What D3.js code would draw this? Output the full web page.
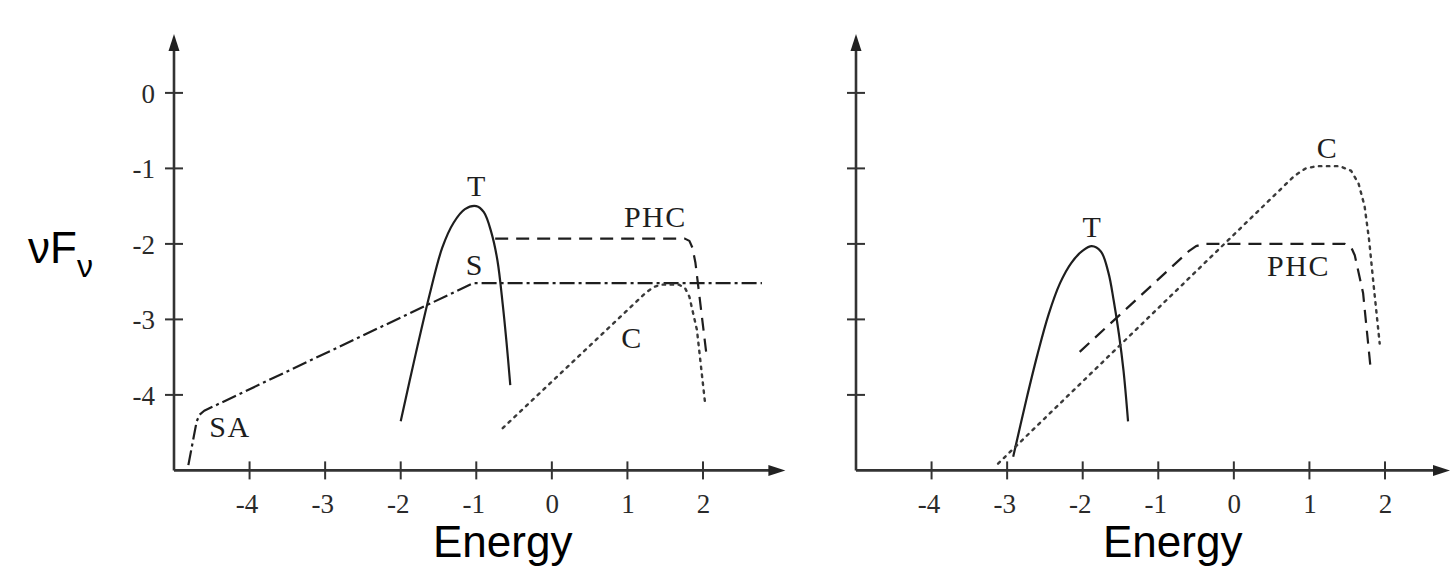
<!DOCTYPE html>
<html>
<head>
<meta charset="utf-8">
<script src="https://cdn.jsdelivr.net/npm/d3@7"></script>
<style>
  html, body { margin: 0; padding: 0; background: #fff; }
  svg { display: block; }
</style>
</head>
<body>
<svg id="chart" width="1451" height="576"></svg>
<script>
// Tick values shared by both panels (log energy, log νFν)
const xTicks = [-4, -3, -2, -1, 0, 1, 2];
const yTicks = [0, -1, -2, -3, -4];

// Left panel spectral components: [log E, log νFν]
const leftSA  = [[-4.81, -4.93], [-4.7, -4.35], [-4.66, -4.26], [-4.6, -4.21], [-1.04, -2.52], [2.78, -2.52]];
const leftT   = [[-2.0, -4.35], [-1.8, -3.45], [-1.6, -2.6], [-1.45, -2.05], [-1.3, -1.72],
                 [-1.15, -1.54], [-1.0, -1.5], [-0.9, -1.58], [-0.8, -1.85], [-0.72, -2.22],
                 [-0.65, -2.8], [-0.6, -3.3], [-0.55, -3.87]];
const leftPHC = [[-0.75, -1.93], [1.76, -1.93], [1.82, -1.96], [1.86, -2.05], [1.9, -2.25], [2.05, -3.5]];
const leftC   = [[-0.65, -4.44], [1.25, -2.64], [1.35, -2.57], [1.45, -2.54], [1.68, -2.54],
                 [1.76, -2.58], [1.82, -2.7], [1.92, -3.14], [2.03, -4.13]];

// Right panel spectral components
const rightT   = [[-2.92, -4.82], [-2.75, -4.08], [-2.6, -3.47], [-2.45, -2.93], [-2.3, -2.52],
                  [-2.15, -2.25], [-2.0, -2.09], [-1.88, -2.03], [-1.76, -2.1], [-1.66, -2.38],
                  [-1.59, -2.75], [-1.52, -3.2], [-1.46, -3.68], [-1.40, -4.35]];
const rightPHC = [[-2.04, -3.43], [-0.6, -2.1], [-0.5, -2.03], [-0.4, -2.0], [1.47, -2.0],
                  [1.55, -2.04], [1.6, -2.15], [1.71, -2.65], [1.81, -3.65]];
const rightC   = [[-3.12, -4.91], [0.8, -1.1], [0.95, -1.0], [1.1, -0.97], [1.4, -0.97],
                  [1.55, -1.03], [1.65, -1.2], [1.73, -1.5], [1.79, -1.95], [1.85, -2.55], [1.93, -3.32]];

// Component annotations: text and anchor in data units
const leftLabels  = [["T", -1.0, -1.365], ["S", -1.03, -2.41], ["PHC", 1.37, -1.78],
                     ["C", 1.05, -3.38], ["SA", -4.26, -4.56]];
const rightLabels = [["T", -1.88, -1.91], ["C", 1.23, -0.86], ["PHC", 0.855, -2.425]];

const xLabel = "Energy";

const svg = d3.select("#chart");
const unit = 75.57;          // pixels per decade on the energy axis
const yUnit = 75.5;          // pixels per decade on the flux axis
const baseY = 470.4;         // pixel row of the x axis (log νFν = -5)

const styles = {
  solid:   { dash: null,        width: 2.2, color: "#1e1e1e" },
  dashed:  { dash: "13,8",      width: 2.2, color: "#1e1e1e" },
  dotted:  { dash: "2.5,5.5",   width: 2.4, color: "#3a3a3a" },
  dashdot: { dash: "15,4,3,4",  width: 2.2, color: "#1e1e1e" }
};

function panel(axisX, xEnd, yEnd, series, labels, showYLabels) {
  const x = d3.scaleLinear().domain([-5, 3]).range([axisX, axisX + 8 * unit]);
  const y = d3.scaleLinear().domain([-5, 1]).range([baseY, baseY - 6 * yUnit]);
  const g = svg.append("g");

  // x axis
  const xAx = d3.axisBottom(x).tickValues(xTicks).tickSize(0).tickFormat(d => d);
  const gx = g.append("g").attr("transform", `translate(0,${baseY})`).call(xAx);
  gx.select(".domain").remove();
  gx.selectAll("text").attr("dy", null).attr("y", 43)
    .attr("font-family", "'Liberation Serif', 'Times New Roman', serif")
    .attr("font-size", 27).attr("fill", "#2a2a2a")
    .attr("dx", d => d < 0 ? -3 : 0);
  g.append("line").attr("x1", axisX).attr("x2", x(xEnd) - 12)
    .attr("y1", baseY).attr("y2", baseY).attr("stroke", "#333").attr("stroke-width", 2.6);
  g.selectAll(".xt").data(xTicks).join("line")
    .attr("x1", d => x(d)).attr("x2", d => x(d))
    .attr("y1", baseY - 9).attr("y2", baseY + 9)
    .attr("stroke", "#333").attr("stroke-width", 2);
  const xe = x(xEnd);
  g.append("path").attr("d", `M${xe},${baseY} L${xe - 17},${baseY - 5.5} L${xe - 17},${baseY + 5.5} Z`)
    .attr("fill", "#222");

  // y axis
  g.append("line").attr("x1", axisX).attr("x2", axisX)
    .attr("y1", baseY).attr("y2", y(yEnd) + 12).attr("stroke", "#333").attr("stroke-width", 2.6);
  g.selectAll(".yt").data(yTicks).join("line")
    .attr("x1", axisX - 9).attr("x2", axisX + 9)
    .attr("y1", d => y(d)).attr("y2", d => y(d))
    .attr("stroke", "#333").attr("stroke-width", 2);
  const ye = y(yEnd);
  g.append("path").attr("d", `M${axisX},${ye} L${axisX - 5.5},${ye + 17} L${axisX + 5.5},${ye + 17} Z`)
    .attr("fill", "#222");
  if (showYLabels) {
    g.selectAll(".yl").data(yTicks).join("text")
      .attr("x", axisX - 19).attr("y", d => y(d) + 10)
      .attr("text-anchor", "end")
      .attr("font-family", "'Liberation Serif', 'Times New Roman', serif")
      .attr("font-size", 27).attr("fill", "#2a2a2a")
      .text(d => d);
  }

  // spectral components: straight power-law pieces, smooth thermal bumps
  series.forEach(([pts, kind, curve]) => {
    const s = styles[kind];
    const line = d3.line().x(d => x(d[0])).y(d => y(d[1])).curve(curve);
    g.append("path").attr("d", line(pts))
      .attr("fill", "none").attr("stroke", s.color)
      .attr("stroke-width", s.width)
      .attr("stroke-dasharray", s.dash)
      .attr("stroke-linejoin", "round")
      .attr("stroke-linecap", kind === "dotted" ? "round" : "butt");
  });

  // annotations
  g.selectAll(".lab").data(labels).join("text")
    .attr("x", d => x(d[1])).attr("y", d => y(d[2]))
    .attr("text-anchor", "middle")
    .attr("font-family", "'Liberation Serif', 'Times New Roman', serif")
    .attr("font-size", 30).attr("letter-spacing", d => d[0].length > 1 ? 1.5 : 0)
    .attr("fill", "#1e1e1e")
    .text(d => d[0]);

  return x;
}

const smooth = d3.curveCatmullRom.alpha(0.5);
const straight = d3.curveLinear;

panel(174, 3.09, 0.78,
  [[leftSA, "dashdot", straight], [leftT, "solid", smooth],
   [leftPHC, "dashed", straight], [leftC, "dotted", straight]],
  leftLabels, true);
panel(856, 2.86, 0.78,
  [[rightT, "solid", smooth], [rightPHC, "dashed", straight], [rightC, "dotted", straight]],
  rightLabels, false);

// axis titles
svg.append("text").attr("x", 433).attr("y", 557)
  .attr("font-family", "'Liberation Sans', Arial, sans-serif").attr("font-size", 44)
  .attr("fill", "#000").text(xLabel);
svg.append("text").attr("x", 1103).attr("y", 557)
  .attr("font-family", "'Liberation Sans', Arial, sans-serif").attr("font-size", 44)
  .attr("fill", "#000").text(xLabel);

const yt = svg.append("text").attr("x", 28).attr("y", 263)
  .attr("font-family", "'Liberation Sans', Arial, sans-serif").attr("font-size", 44)
  .attr("fill", "#000");
yt.append("tspan").text("νF");
yt.append("tspan").attr("font-size", 32).attr("dy", 14).text("ν");
</script>
</body>
</html>
